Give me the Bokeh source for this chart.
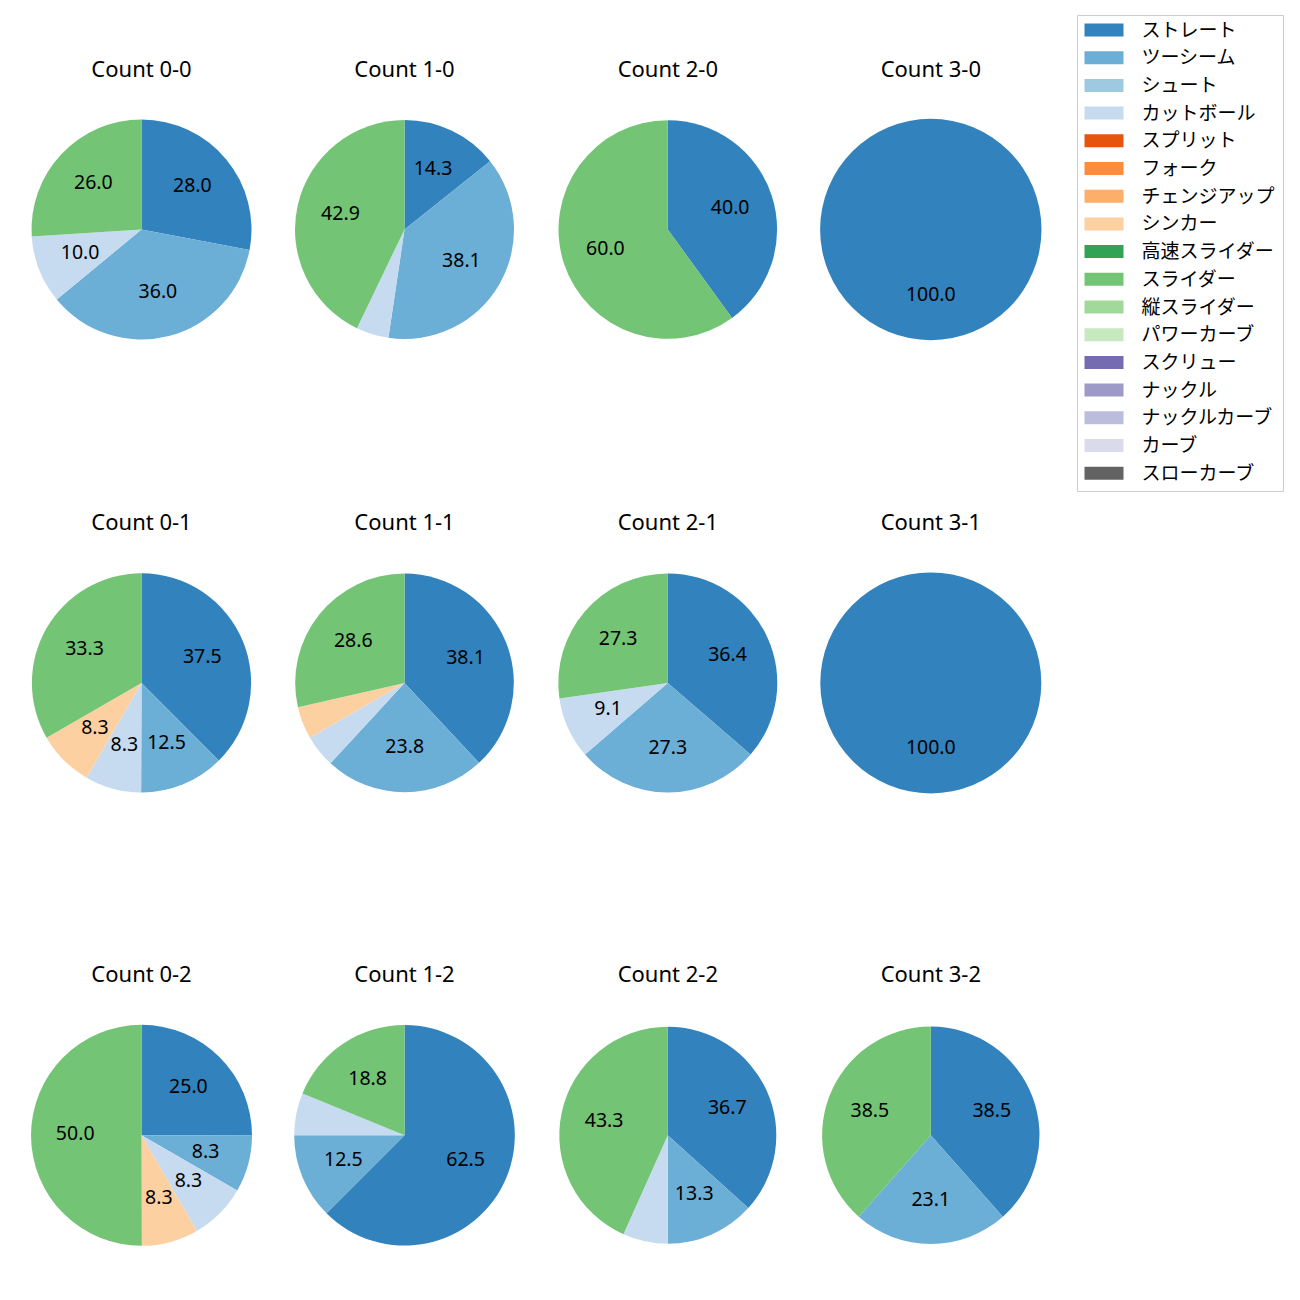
import math
from bokeh.plotting import figure
from bokeh.models import Range1d, ColumnDataSource
from bokeh.core.properties import value
from bokeh.embed import file_html
from bokeh.resources import INLINE

# ---------------- data ----------------
pitch_types = ["ストレート", "ツーシーム", "シュート", "カットボール", "スプリット", "フォーク",
               "チェンジアップ", "シンカー", "高速スライダー", "スライダー", "縦スライダー",
               "パワーカーブ", "スクリュー", "ナックル", "ナックルカーブ", "カーブ", "スローカーブ"]
pitch_colors = ["#3182bd", "#6baed6", "#9ecae1", "#c6dbef", "#e6550d", "#fd8d3c",
                "#fdae6b", "#fdd0a2", "#31a354", "#74c476", "#a1d99b", "#c7e9c0",
                "#756bb1", "#9e9ac8", "#bcbddc", "#dadaeb", "#636363"]

count_labels = ["0-0", "1-0", "2-0", "3-0",
                "0-1", "1-1", "2-1", "3-1",
                "0-2", "1-2", "2-2", "3-2"]
pct_0_0 = {"ストレート": 28.0, "ツーシーム": 36.0, "カットボール": 10.0, "スライダー": 26.0}
pct_1_0 = {"ストレート": 14.3, "ツーシーム": 38.1, "カットボール": 4.8, "スライダー": 42.9}
pct_2_0 = {"ストレート": 40.0, "スライダー": 60.0}
pct_3_0 = {"ストレート": 100.0}
pct_0_1 = {"ストレート": 37.5, "ツーシーム": 12.5, "カットボール": 8.3, "シンカー": 8.3, "スライダー": 33.3}
pct_1_1 = {"ストレート": 38.1, "ツーシーム": 23.8, "カットボール": 4.8, "シンカー": 4.8, "スライダー": 28.6}
pct_2_1 = {"ストレート": 36.4, "ツーシーム": 27.3, "カットボール": 9.1, "スライダー": 27.3}
pct_3_1 = {"ストレート": 100.0}
pct_0_2 = {"ストレート": 25.0, "ツーシーム": 8.3, "カットボール": 8.3, "シンカー": 8.3, "スライダー": 50.0}
pct_1_2 = {"ストレート": 62.5, "ツーシーム": 12.5, "カットボール": 6.2, "スライダー": 18.8}
pct_2_2 = {"ストレート": 36.7, "ツーシーム": 13.3, "カットボール": 6.7, "スライダー": 43.3}
pct_3_2 = {"ストレート": 38.5, "ツーシーム": 23.1, "スライダー": 38.5}
all_pcts = [pct_0_0, pct_1_0, pct_2_0, pct_3_0,
            pct_0_1, pct_1_1, pct_2_1, pct_3_1,
            pct_0_2, pct_1_2, pct_2_2, pct_3_2]
label_min_pct = 7.0

# ---------------- layout (picture pixels) ----------------
W = H = 1284
col_x = [141.0, 404.0, 667.3, 930.3]
row_y = [229.0, 682.4, 1134.8]
radii = [110.0, 109.5, 109.3, 110.7,
         109.6, 109.3, 109.5, 110.5,
         110.5, 110.3, 108.5, 108.7]
title_offset = 162  # title baseline above pie center
FONT = "Noto Sans, Noto Sans CJK JP"
JFONT = "Noto Sans CJK JP"

# legend box layout
LEG_L, LEG_R, LEG_T, LEG_B = 1077, 1283, 15, 491
LEG_GL, LEG_GR, LEG_GH = 1084, 1123, 13
LEG_Y0, LEG_DY = 29.5, 27.7
LEG_TX = 1141

p = figure(width=W, height=H, output_backend="svg", toolbar_location=None,
           x_range=Range1d(0, W), y_range=Range1d(0, H),
           x_axis_type=None, y_axis_type=None, min_border=0)
p.outline_line_color = None
p.grid.visible = False
p.background_fill_color = "white"


def Y(py):
    return H - py


for i, (lab, pct) in enumerate(zip(count_labels, all_pcts)):
    cx = col_x[i % 4]
    cy = Y(row_y[i // 4])
    r = radii[i]
    names = [n for n in pitch_types if n in pct]
    vals = [pct[n] for n in names]
    total = sum(vals)
    cum = 0.0
    xs, ys, starts, ends, cols = [], [], [], [], []
    tx, ty, tt = [], [], []
    for n, v in zip(names, vals):
        f0 = cum / total
        f1 = (cum + v) / total
        cum += v
        a_start = math.radians(90 - 360 * f1)
        a_end = math.radians(90 - 360 * f0)
        xs.append(cx); ys.append(cy)
        starts.append(a_start); ends.append(a_end)
        cols.append(pitch_colors[pitch_types.index(n)])
        if v >= label_min_pct:
            mid = (a_start + a_end) / 2
            tx.append(cx + 0.6 * r * math.cos(mid))
            ty.append(cy + 0.6 * r * math.sin(mid))
            tt.append(f"{v:.1f}")
    if len(vals) == 1:
        p.circle(x=[cx], y=[cy], radius=r, fill_color=cols[0], line_color=None)
    else:
        src = ColumnDataSource(dict(x=xs, y=ys, s=starts, e=ends, c=cols))
        p.wedge(x="x", y="y", radius=r, start_angle="s", end_angle="e",
                direction="anticlock", fill_color="c", line_color=None, source=src)
    p.text(x=tx, y=ty, text=tt, text_align="center", text_baseline="middle",
           text_font=value(FONT), text_font_size="19.5px", text_color="black", y_offset=-2)
    p.text(x=[cx], y=[cy + title_offset], text=[f"Count {lab}"], text_align="center",
           text_baseline="alphabetic", text_font=value(FONT), text_font_size="22px",
           text_color="black")

# legend (drawn as a box with swatches and labels)
p.quad(left=[LEG_L], right=[LEG_R], top=[Y(LEG_T)], bottom=[Y(LEG_B)],
       fill_color="white", fill_alpha=0.8, line_color="#cccccc", line_width=1)
ly = [Y(LEG_Y0 + k * LEG_DY) for k in range(len(pitch_types))]
leg_src = ColumnDataSource(dict(
    left=[LEG_GL] * len(pitch_types), right=[LEG_GR] * len(pitch_types),
    top=[v + LEG_GH / 2 for v in ly], bottom=[v - LEG_GH / 2 for v in ly],
    c=pitch_colors, tx=[LEG_TX] * len(pitch_types), ty=ly, name=pitch_types))
p.quad(left="left", right="right", top="top", bottom="bottom", fill_color="c",
       line_color=None, source=leg_src)
p.text(x="tx", y="ty", text="name", source=leg_src, text_align="left",
       text_baseline="middle", text_font=value(JFONT), text_font_size="19px",
       text_color="black", y_offset=-2)

open("out.html", "w").write(file_html(p, INLINE))
